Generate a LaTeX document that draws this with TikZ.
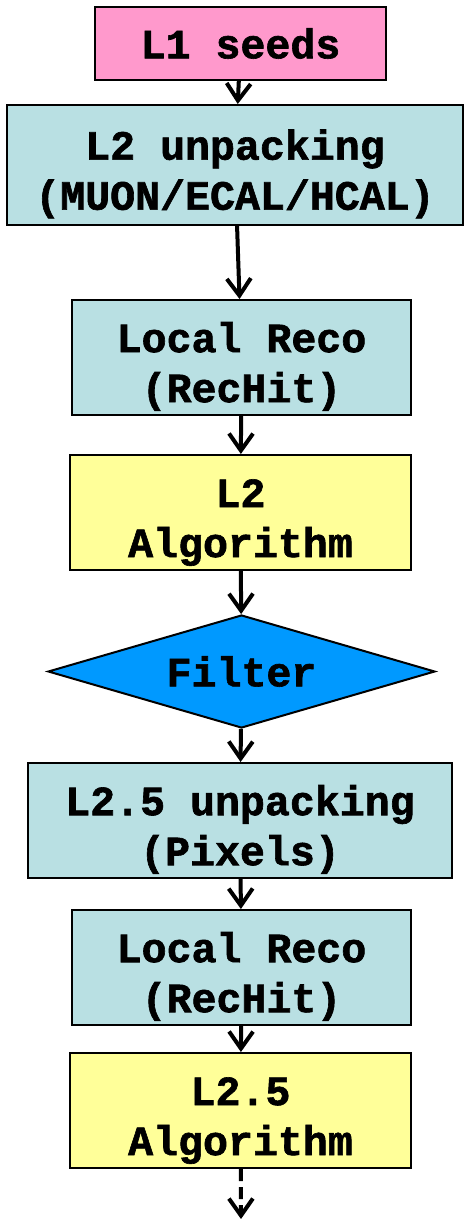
\documentclass[tikz,border=0pt]{standalone}
\usepackage{fontspec}
\setmainfont{Liberation Mono}[BoldFeatures={FakeBold=1.5}]
\usetikzlibrary{arrows.meta, shapes.geometric}

\definecolor{seedpink}{RGB}{255,153,204}
\definecolor{unpackblue}{RGB}{185,224,227}
\definecolor{algoyellow}{RGB}{255,255,153}
\definecolor{filterblue}{RGB}{0,153,255}

\begin{document}
\begin{tikzpicture}[x=0.5pt, y=-0.5pt,
  every node/.style={font=\fontsize{20.8}{25}\selectfont\bfseries, align=center, inner sep=0pt},
  box/.style={draw, line width=1pt, minimum height=57.5pt},
  flow/.style={line width=2pt, -{Straight Barb[length=8.5pt, width=12pt, line width=2pt]}}]

\newcommand{\lowstrut}{\rule{0pt}{24pt}}

\useasboundingbox (0, 0) rectangle (464, 1219);

% L1 seeds
\node[box, fill=seedpink, minimum width=145.5pt, minimum height=36.5pt] (seeds) at (240.5, 43.5) {L1 seeds};

% L2 chain
\node[box, fill=unpackblue, minimum width=228pt, minimum height=60pt] (unpackL2) at (235, 165) {\lowstrut L2 unpacking\\(MUON/ECAL/HCAL)};
\node[box, fill=unpackblue, minimum width=169.5pt] (recoA) at (241.5, 357.5) {\lowstrut Local Reco\\(RecHit)};
\node[box, fill=algoyellow, minimum width=170.5pt] (algoL2) at (240.5, 512.5) {\lowstrut L2\\Algorithm};

% Filter
\node[diamond, draw, line width=1pt, fill=filterblue, aspect=3.4, minimum width=193.5pt, minimum height=56.5pt] (filter) at (241.5, 671.5) {Filter};

% L2.5 chain
\node[box, fill=unpackblue, minimum width=212pt] (unpackL25) at (240, 820.5) {\lowstrut L2.5 unpacking\\(Pixels)};
\node[box, fill=unpackblue, minimum width=169.5pt] (recoB) at (241.5, 967.5) {\lowstrut Local Reco\\(RecHit)};
\node[box, fill=algoyellow, minimum width=170.5pt] (algoL25) at (240.5, 1110.5) {\lowstrut L2.5\\Algorithm};

\coordinate (next) at (241, 1219);

\draw[flow] (seeds) -- (unpackL2);
\draw[flow] (unpackL2) -- (recoA);
\draw[flow] (recoA) -- (algoL2);
\draw[flow] (algoL2) -- (filter);
\draw[flow] (filter) -- (unpackL25);
\draw[flow] (unpackL25) -- (recoB);
\draw[flow] (recoB) -- (algoL25);
\draw[flow, dash pattern=on 6pt off 3pt] (algoL25) -- (next);

\end{tikzpicture}
\end{document}
